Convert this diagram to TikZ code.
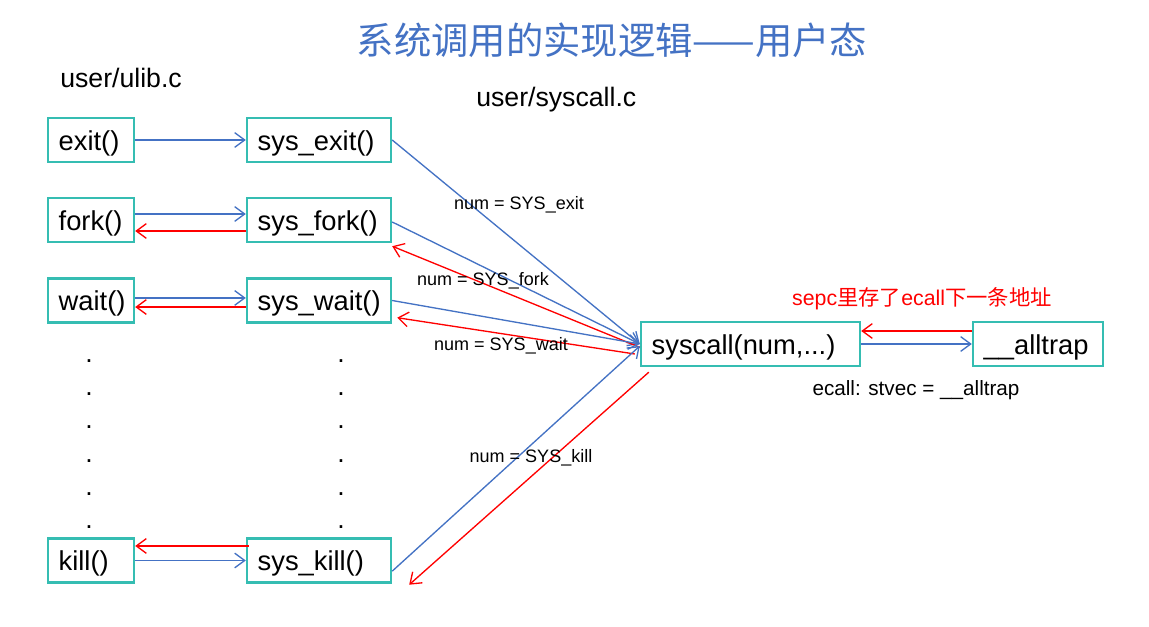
\documentclass[tikz,border=0pt]{standalone}
\usepackage{fontspec}
\setmainfont{Liberation Sans}
\newfontfamily\cjk{Noto Sans CJK SC}
\usetikzlibrary{arrows.meta}
\definecolor{tealbox}{HTML}{35BDB2}
\definecolor{blu}{HTML}{4472C4}
\definecolor{rd}{HTML}{FF0000}
\begin{document}
\begin{tikzpicture}[x=0.75pt,y=-0.75pt,
  bx/.style={draw=tealbox, line width=1.8pt, minimum height=33pt, inner xsep=8pt, inner ysep=0pt, text height=17.5pt, text depth=2.3pt, align=left, font=\fontsize{20.5}{24}\selectfont},
  sm/.style={bx, text width=48.5pt},
  md/.style={bx, text width=92pt},
  bl/.style={draw=blu, line width=1pt, -{Straight Barb[length=7.5pt,width=11pt]}},
  rl/.style={draw=rd, line width=1pt, -{Straight Barb[length=7.5pt,width=11pt]}},
  lbl/.style={font=\fontsize{13.5}{16}\selectfont, text=black, inner sep=1pt},
  big/.style={font=\fontsize{20}{24}\selectfont, inner sep=0pt},
  dot/.style={font=\fontsize{20}{24}\selectfont, inner sep=0pt}
]
\useasboundingbox (0,0) rectangle (1149,627);
\fill[white] (0,0) rectangle (1149,627);

\node[font=\cjk\fontsize{28}{33}\selectfont, text=blu] (title) at (612,40) {系统调用的实现逻辑——用户态};
\node[big, anchor=west] (ulib) at (60,78) {user/ulib.c};
\node[big, anchor=west] (sysc) at (476,100) {user/syscall.c};

\node[sm] (exit) at (91,140) {exit()};
\node[md] (sysexit) at (319,140) {sys\_exit()};
\node[sm] (fork) at (91,220) {fork()};
\node[md] (sysfork) at (319,220) {sys\_fork()};
\node[sm] (wait) at (91,300.5) {wait()};
\node[md] (syswait) at (319,300.5) {sys\_wait()};
\node[sm] (kill) at (91,560.5) {kill()};
\node[md] (syskill) at (319,560.5) {sys\_kill()};
\node[bx, text width=148.25pt] (syscall) at (750.5,344) {syscall(num,...)};
\node[bx, text width=81.5pt] (alltrap) at (1038,344) {\_\_alltrap};

\foreach \y [count=\i] in {361,394,427,461,494,527} {
  \node[dot] (dl\i) at (89,\y) {.};
  \node[dot] (dr\i) at (341,\y) {.};
}

% left horizontal arrows
\draw[bl] (exit.east) -- (sysexit.west);
\draw[bl] ([yshift=4.5pt]fork.east) -- ([yshift=4.5pt]sysfork.west);
\draw[rl] ([yshift=-8.25pt]sysfork.west) -- ([yshift=-8.25pt]fork.east);
\draw[bl] ([yshift=1.9pt]wait.east) -- ([yshift=1.9pt]syswait.west);
\draw[rl] ([yshift=-4.9pt]syswait.west) -- ([yshift=-4.9pt]wait.east);
\draw[rl] ([xshift=2.25pt,yshift=10.9pt]syskill.west) -- ([yshift=10.9pt]kill.east);
\draw[bl] (kill.east) -- (syskill.west);

% diagonal arrows
\coordinate (sw) at ([yshift=0pt]syscall.west);
\draw[bl] (sysexit.east) -- (sw);
\draw[bl] ([yshift=-1.5pt]sysfork.east) -- (sw);
\draw[rl] ([yshift=-2.5pt]syscall.west) -- ([yshift=-2.25pt]sysfork.south east);
\draw[bl] (syswait.east) -- (sw);
\draw[rl] ([xshift=-3.75pt,yshift=-7.5pt]syscall.west) -- ([xshift=3.75pt,yshift=4.5pt]syswait.south east);
\draw[bl] ([yshift=-8pt]syskill.east) -- ([yshift=-1.5pt]syscall.west);
\draw[rl] ([xshift=6.75pt,yshift=-3.75pt]syscall.south west) -- ([xshift=12.75pt,yshift=-0.75pt]syskill.south east);

% right arrows
\draw[rl] ([yshift=9.75pt]alltrap.west) -- ([yshift=9.75pt]syscall.east);
\draw[bl] (syscall.east) -- (alltrap.west);

% labels
\node[lbl] (l1) at (519,205) {num = SYS\_exit};
\node[lbl] (l2) at (483,281) {num = SYS\_fork};
\node[lbl] (l3) at (501,346) {num = SYS\_wait};
\node[lbl] (l4) at (531,458) {num = SYS\_kill};
\node[font=\fontsize{16}{19}\selectfont, text=rd, inner sep=0pt] (sepc) at (922,299) {sepc{\cjk 里存了}ecall{\cjk 下一条地址}};
\node[font=\fontsize{15.5}{18}\selectfont, inner sep=0pt] (ecall) at (916,390) {ecall: stvec = \_\_alltrap};
\end{tikzpicture}
\end{document}
